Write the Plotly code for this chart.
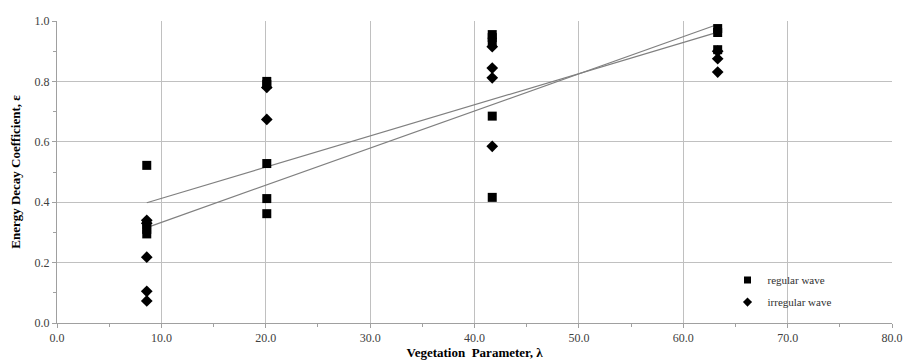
import plotly.graph_objects as go

# Data
reg_x = [8.6, 8.6, 8.6, 8.6, 20.1, 20.1, 20.1, 20.1, 20.1,
         41.7, 41.7, 41.7, 41.7, 41.7, 63.3, 63.3, 63.3]
reg_y = [0.522, 0.325, 0.31, 0.295, 0.80, 0.79, 0.528, 0.412, 0.362,
         0.955, 0.945, 0.93, 0.685, 0.416, 0.975, 0.962, 0.905]

irr_x = [8.6, 8.6, 8.6, 8.6, 8.6, 20.1, 20.1, 41.7, 41.7, 41.7, 41.7,
         63.3, 63.3, 63.3]
irr_y = [0.34, 0.33, 0.218, 0.105, 0.073, 0.78, 0.674,
         0.915, 0.844, 0.812, 0.585, 0.9, 0.875, 0.831]

trend_x = [8.6, 63.0]
trend_a = [0.398, 0.960]
trend_b = [0.316, 0.985]

x_ticks = [0, 10, 20, 30, 40, 50, 60, 70, 80]
x_tick_labels = ["0.0", "10.0", "20.0", "30.0", "40.0", "50.0", "60.0", "70.0", "80.0"]
y_ticks = [0, 0.2, 0.4, 0.6, 0.8, 1.0]
y_tick_labels = ["0.0", "0.2", "0.4", "0.6", "0.8", "1.0"]

FONT = "Liberation Serif"

fig = go.Figure()
for ty in (trend_a, trend_b):
    fig.add_trace(go.Scatter(x=trend_x, y=ty, mode="lines",
                             line=dict(color="#808080", width=1.2),
                             showlegend=False, hoverinfo="skip"))

fig.add_trace(go.Scatter(x=reg_x, y=reg_y, mode="markers", name="regular wave",
                         legendgroup="reg", showlegend=False,
                         marker=dict(symbol="square", size=9, color="black")))
fig.add_trace(go.Scatter(x=irr_x, y=irr_y, mode="markers", name="irregular wave",
                         legendgroup="irr", showlegend=False,
                         marker=dict(symbol="diamond", size=9, color="black")))
# legend entries with small symbols, as in the reference
fig.add_trace(go.Scatter(x=[None], y=[None], mode="markers", name="regular wave",
                         legendgroup="reg",
                         marker=dict(symbol="square", size=7, color="black")))
fig.add_trace(go.Scatter(x=[None], y=[None], mode="markers", name="irregular wave",
                         legendgroup="irr",
                         marker=dict(symbol="diamond", size=7, color="black")))

axis_common = dict(showgrid=True, gridcolor="#c0c0c0", gridwidth=1,
                   showline=True, linecolor="#a0a0a0", linewidth=1,
                   ticks="outside", ticklen=4, tickcolor="#a0a0a0",
                   zeroline=False, automargin=False,
                   tickfont=dict(family=FONT, size=12, color="#404040"))

fig.update_xaxes(range=[0, 80], tickvals=x_ticks, ticktext=x_tick_labels,
                 minor=dict(ticks="outside", ticklen=3, dtick=5, tickcolor="#a0a0a0",
                            showgrid=False),
                 title=dict(text="<b>Vegetation  Parameter, λ</b>", standoff=2,
                            font=dict(family=FONT, size=13, color="black")),
                 **axis_common)
fig.update_yaxes(range=[0, 1.0], tickvals=y_ticks, ticktext=y_tick_labels,
                 minor=dict(ticks="outside", ticklen=3, dtick=0.1, tickcolor="#a0a0a0",
                            showgrid=False),
                 title=dict(text="<b>Energy Decay Coefficient, ε</b>", standoff=11,
                            font=dict(family=FONT, size=13, color="black")),
                 **axis_common)

fig.update_layout(
    width=906, height=363,
    margin=dict(l=57, r=14, t=21, b=40),
    paper_bgcolor="white", plot_bgcolor="white",
    font=dict(family=FONT),
    legend=dict(x=0.803, y=0.19, xanchor="left", yanchor="top",
                bgcolor="rgba(0,0,0,0)", traceorder="grouped",
                font=dict(family=FONT, size=11, color="#303030"),
                itemwidth=30, tracegroupgap=3),
)

fig.write_html("out.html", config={"displayModeBar": False},
               post_script="document.body.style.margin='0px';")
